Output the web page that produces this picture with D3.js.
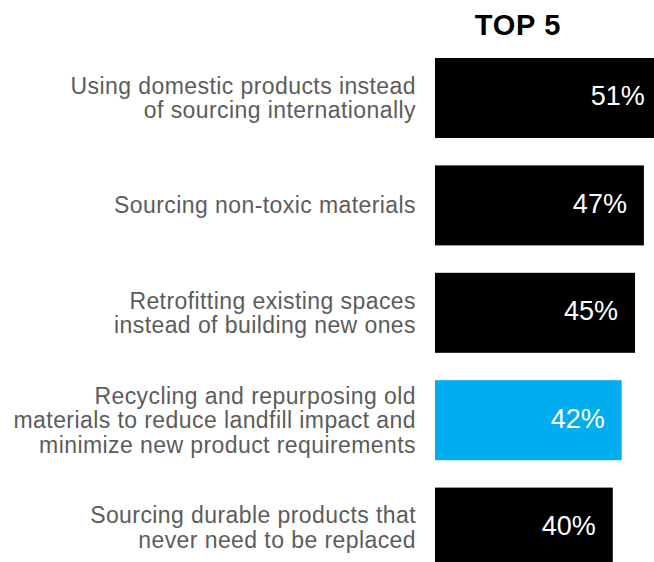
<!DOCTYPE html>
<html>
<head>
<meta charset="utf-8">
<script src="https://cdn.jsdelivr.net/npm/d3@7"></script>
<style>
  html, body { margin: 0; padding: 0; background: #fff; }
  svg { display: block; }
</style>
</head>
<body>
<svg id="chart" width="654" height="562"></svg>
<script>
// Survey responses: top 5 sustainability practices
const categories = [
  ["Using domestic products instead", "of sourcing internationally"],
  ["Sourcing non-toxic materials"],
  ["Retrofitting existing spaces", "instead of building new ones"],
  ["Recycling and repurposing old", "materials to reduce landfill impact and", "minimize new product requirements"],
  ["Sourcing durable products that", "never need to be replaced"]
];
const values = [51, 47, 45, 42, 40];
const highlighted = [false, false, false, true, false];
const title = "TOP 5";

const svg = d3.select("#chart");
const idx = d3.range(values.length);
const font = "Liberation Sans, Arial, Helvetica, sans-serif";

const x = d3.scaleLinear().domain([0, 10]).range([435, 435 + 44.45]);
const y = d3.scaleBand().domain(idx).range([58, 567.6]).paddingInner(0.255).paddingOuter(0);

svg.append("text")
  .attr("x", 518)
  .attr("y", 35)
  .attr("text-anchor", "middle")
  .attr("font-family", font)
  .attr("font-weight", "bold")
  .attr("font-size", 29)
  .attr("letter-spacing", 0.7)
  .attr("fill", "#000")
  .text(title);

svg.selectAll("rect.bar")
  .data(idx)
  .join("rect")
  .attr("class", "bar")
  .attr("x", x(0))
  .attr("y", i => y(i))
  .attr("width", i => x(values[i]) - x(0))
  .attr("height", y.bandwidth())
  .attr("fill", i => highlighted[i] ? "#00aeef" : "#000");

svg.selectAll("text.val")
  .data(idx)
  .join("text")
  .attr("class", "val")
  .attr("x", i => x(values[i]) - 17)
  .attr("y", i => y(i) + y.bandwidth() / 2 - 2)
  .attr("dy", "0.35em")
  .attr("text-anchor", "end")
  .attr("font-family", font)
  .attr("font-size", 27)
  .attr("fill", "#fff")
  .text(i => values[i] + "%");

const lineH = 24.5;
const labels = svg.selectAll("text.cat")
  .data(idx)
  .join("text")
  .attr("class", "cat")
  .attr("text-anchor", "end")
  .attr("font-family", font)
  .attr("font-size", 23)
  .attr("letter-spacing", 0.42)
  .attr("fill", "#5c5c5c");

labels.each(function(i) {
  const lines = categories[i];
  const cy = y(i) + y.bandwidth() / 2;
  const start = cy - (lines.length - 1) * lineH / 2;
  d3.select(this).selectAll("tspan")
    .data(lines)
    .join("tspan")
    .attr("x", 416)
    .attr("y", (d, k) => start + k * lineH)
    .attr("dy", "0.35em")
    .text(d => d);
});
</script>
</body>
</html>
